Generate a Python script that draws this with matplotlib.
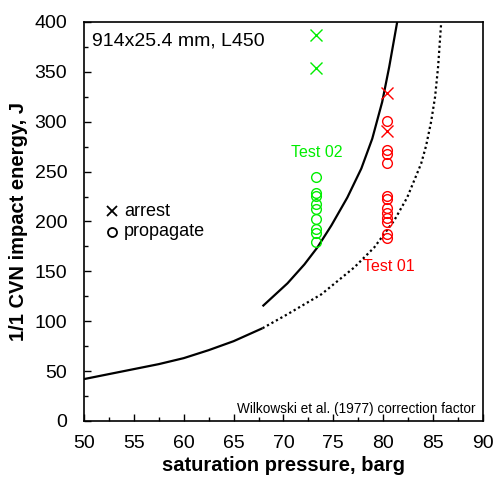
import matplotlib
matplotlib.use('Agg')
import matplotlib.pyplot as plt
from matplotlib.ticker import MultipleLocator

plt.rcParams['font.family'] = ['Liberation Sans', 'DejaVu Sans']

# Wilkowski curve, solid part (low pressure)
low_p = [50.0, 52.5, 55.0, 57.5, 60.0, 62.5, 65.0, 67.9]
low_e = [42, 47, 52, 57, 63, 71, 80, 93]
# dotted continuation
dot_p = [67.9, 70.4, 73.8, 77.1, 79.1, 81.1, 82.4, 83.8, 84.3, 84.8, 85.2, 85.5, 85.8]
dot_e = [93, 107, 127, 154, 174, 201, 224, 258, 276, 300, 325, 355, 398]
# upper solid curve
up_p = [67.9, 70.4, 72.1, 73.4, 74.8, 76.4, 77.8, 78.9, 79.9, 80.6, 81.4]
up_e = [115, 138, 157, 174, 196, 224, 253, 283, 320, 355, 400]

# Test 02 (green)
t02_p = 73.3
t02_arrest = [387, 354]
t02_prop = [245, 229, 226, 218, 213, 202, 192, 188, 179]
# Test 01 (red)
t01_p = 80.4
t01_arrest = [329, 291]
t01_prop = [301, 272, 268, 259, 226, 223, 214, 208, 203, 199, 187, 183]

fig = plt.figure(figsize=(4.95, 4.82), dpi=100)
ax = fig.add_axes([0.1697, 0.1266, 0.806, 0.8278])

ax.plot(low_p, low_e, color='black', lw=1.6, solid_capstyle='butt', solid_joinstyle='round')
ax.plot(dot_p, dot_e, color='black', lw=1.6, linestyle=(0, (1, 1.3)))
ax.plot(up_p, up_e, color='black', lw=1.6, solid_capstyle='butt', solid_joinstyle='round')

green = '#00ee00'
red = '#ff0000'
ax.plot([t02_p] * len(t02_arrest), t02_arrest, 'x', color=green, ms=8.5, mew=1.0)
ax.plot([t02_p] * len(t02_prop), t02_prop, 'o', mfc='none', mec=green, ms=7, mew=1.0)
ax.plot([t01_p] * len(t01_arrest), t01_arrest, 'x', color=red, ms=8.5, mew=1.0)
ax.plot([t01_p] * len(t01_prop), t01_prop, 'o', mfc='none', mec=red, ms=7, mew=1.0)

ax.text(t02_p, 269, 'Test 02', color=green, fontsize=11.5, ha='center', va='center')
ax.text(t01_p + 0.2, 155, 'Test 01', color=red, fontsize=11.5, ha='center', va='center')

ax.text(0.02, 0.952, '914x25.4 mm, L450', transform=ax.transAxes, fontsize=14,
        ha='left', va='center')
ax.text(0.982, 0.03, 'Wilkowski et al. (1977) correction factor', transform=ax.transAxes,
        fontsize=9.8, ha='right', va='center')

# marker key
ax.plot([0.07], [0.526], 'x', color='black', ms=6.5, mew=1.3, transform=ax.transAxes)
ax.plot([0.07], [0.474], 'o', mfc='none', mec='black', ms=6.5, mew=1.3, transform=ax.transAxes)
ax.text(0.1, 0.526, 'arrest', transform=ax.transAxes, fontsize=13, va='center')
ax.text(0.1, 0.474, 'propagate', transform=ax.transAxes, fontsize=13, va='center')

ax.set_xlim(50, 90)
ax.set_ylim(0, 400)
ax.xaxis.set_major_locator(MultipleLocator(5))
ax.xaxis.set_minor_locator(MultipleLocator(2.5))
ax.yaxis.set_major_locator(MultipleLocator(50))
ax.yaxis.set_minor_locator(MultipleLocator(25))
ax.tick_params(which='both', direction='in', top=False, right=False, labelsize=14)
ax.tick_params(which='major', length=5, width=1)
ax.tick_params(which='minor', length=3, width=1)
ax.tick_params(axis='x', pad=10)
ax.tick_params(axis='y', pad=12)
for s in ax.spines.values():
    s.set_linewidth(1.2)

ax.set_xlabel('saturation pressure, barg', fontsize=14.5, fontweight='bold', labelpad=3)
ax.set_ylabel('1/1 CVN impact energy, J', fontsize=14.5, fontweight='bold', labelpad=5)

fig.savefig('out.png', dpi=100)
